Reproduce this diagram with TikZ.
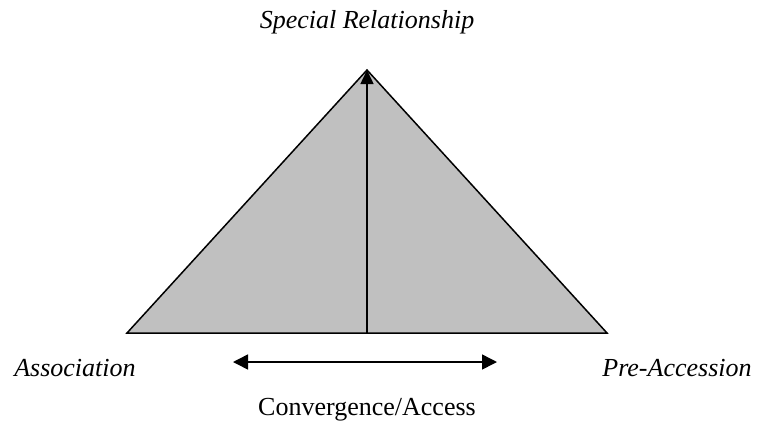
\documentclass[tikz,border=0pt]{standalone}
\usepackage{fontspec}
\setmainfont{Liberation Serif}
\usetikzlibrary{arrows.meta}
\definecolor{trigray}{HTML}{C0C0C0}
\tikzset{
  lbl/.style={inner sep=0pt, font=\fontsize{26}{30}\selectfont\itshape},
  plainlbl/.style={inner sep=0pt, font=\fontsize{26}{30}\selectfont},
  arr/.style={line width=1.5pt, -{Triangle[length=14pt,width=13pt]}},
  darr/.style={line width=1.5pt, {Triangle[length=15pt,width=15pt]}-{Triangle[length=15pt,width=15pt]}}
}
\begin{document}
\begin{tikzpicture}[x=1pt,y=-1pt]
\useasboundingbox (0,0) rectangle (757,426);
\coordinate (apex) at (367,70);
\coordinate (bl) at (127,333);
\coordinate (br) at (607,333);
\coordinate (bm) at (367,333);
\coordinate (dl) at (233,362);
\coordinate (dr) at (497,362);
\filldraw[fill=trigray, draw=black, line width=1.5pt, line join=miter] (apex) -- (br) -- (bl) -- cycle;
\draw[arr] (bm) -- (apex);
\draw[darr] (dl) -- (dr);
\node[lbl] (sr) at (367,22) {Special Relationship};
\node[lbl] (as) at (75,368) {Association};
\node[lbl] (pa) at (677,368) {Pre-Accession};
\node[plainlbl] (ca) at (367,410) {Convergence/Access};
\end{tikzpicture}
\end{document}
